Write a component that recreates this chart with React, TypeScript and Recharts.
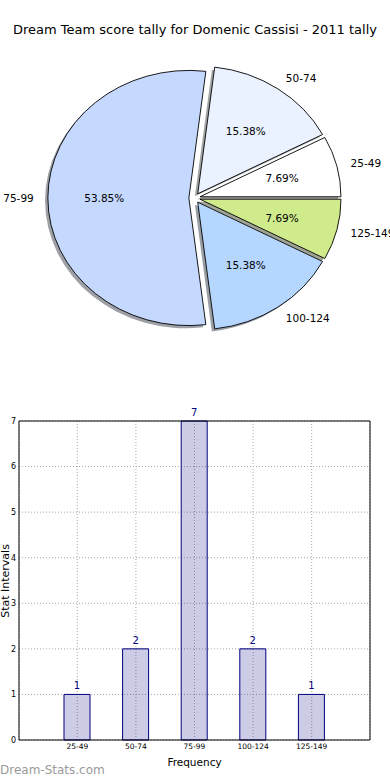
import { Bar, BarChart, CartesianGrid, Cell, LabelList, Pie, PieChart, XAxis, YAxis } from 'recharts';

const RANGES = ['25-49', '50-74', '75-99', '100-124', '125-149'];
const COUNTS = [1, 2, 7, 2, 1];
const SLICE_COLORS = ['#ffffff', '#eaf2ff', '#c5d9ff', '#b5d6ff', '#d0eb8c'];
const Y_TICKS = [0, 1, 2, 3, 4, 5, 6, 7];

const data = RANGES.map((name, i) => ({ name, count: COUNTS[i] }));

const FONT = '"DejaVu Sans", sans-serif';
const RAD = Math.PI / 180;
// the original pie is drawn on non-square axes, so it comes out as an ellipse
const Y_RATIO = 0.905;
const EXPLODE = 0.04;
const SHADOW = 0.02;

const shade = (hex: string) => {
	const n = parseInt(hex.slice(1), 16);
	const r = Math.round(((n >> 16) & 255) * 0.3);
	const g = Math.round(((n >> 8) & 255) * 0.3);
	const b = Math.round((n & 255) * 0.3);
	return `rgb(${r},${g},${b})`;
};

const explodedCenter = (cx: number, cy: number, r: number, mid: number) => ({
	x: cx + EXPLODE * r * Math.cos(mid * RAD),
	y: cy - EXPLODE * r * Y_RATIO * Math.sin(mid * RAD),
});

const wedgePath = (x: number, y: number, rx: number, ry: number, a0: number, a1: number) => {
	const x0 = x + rx * Math.cos(a0 * RAD);
	const y0 = y - ry * Math.sin(a0 * RAD);
	const x1 = x + rx * Math.cos(a1 * RAD);
	const y1 = y - ry * Math.sin(a1 * RAD);
	const large = Math.abs(a1 - a0) > 180 ? 1 : 0;
	const sweep = a1 > a0 ? 0 : 1;
	return `M${x},${y} L${x0},${y0} A${rx},${ry} 0 ${large} ${sweep} ${x1},${y1} Z`;
};

const Wedge = (props: any) => {
	const { cx, cy, outerRadius, startAngle, endAngle, fill } = props;
	const c = explodedCenter(cx, cy, outerRadius, (startAngle + endAngle) / 2);
	return (
		<path
			d={wedgePath(c.x, c.y, outerRadius, outerRadius * Y_RATIO, startAngle, endAngle)}
			fill={fill}
			stroke="#000"
			strokeWidth={0.9}
		/>
	);
};

const WedgeShadow = (props: any) => {
	const { cx, cy, outerRadius, startAngle, endAngle, fill } = props;
	const c = explodedCenter(cx, cy, outerRadius, (startAngle + endAngle) / 2);
	const rx = outerRadius;
	const ry = outerRadius * Y_RATIO;
	return (
		<path
			d={wedgePath(c.x - SHADOW * rx, c.y + SHADOW * ry, rx, ry, startAngle, endAngle)}
			fill={shade(fill)}
			fillOpacity={0.5}
		/>
	);
};

const renderPieLabel = (props: any) => {
	const { cx, cy, outerRadius, midAngle, percent, name } = props;
	const c = explodedCenter(cx, cy, outerRadius, midAngle);
	const rx = outerRadius;
	const ry = outerRadius * Y_RATIO;
	const cos = Math.cos(midAngle * RAD);
	const sin = Math.sin(midAngle * RAD);
	return (
		<g>
			<text
				x={c.x + 1.1 * rx * cos}
				y={c.y - 1.1 * ry * sin}
				textAnchor={cos >= 0 ? 'start' : 'end'}
				dominantBaseline="central"
				fontSize={10.5}
				fontFamily={FONT}
				fill="#000"
			>
				{name}
			</text>
			<text
				x={c.x + 0.6 * rx * cos}
				y={c.y - 0.6 * ry * sin}
				textAnchor="middle"
				dominantBaseline="central"
				fontSize={10.5}
				fontFamily={FONT}
				fill="#000"
			>
				{(percent * 100).toFixed(2)}%
			</text>
		</g>
	);
};

const App = () => {
	return (
		<div style={{ position: 'absolute', left: 0, top: 0, width: 390, height: 780, background: '#fff', fontFamily: FONT }}>
			<div style={{ position: 'absolute', top: 21, left: 0, width: 390, textAlign: 'center', fontSize: 13, lineHeight: '18px', color: '#000' }}>
				Dream Team score tally for Domenic Cassisi - 2011 tally
			</div>

			{/* Pie */}
			<div style={{ position: 'absolute', top: 0, left: 0 }}>
				<PieChart width={390} height={390} margin={{ top: 0, right: 0, bottom: 0, left: 0 }}>
					<Pie
						data={data}
						dataKey="count"
						nameKey="name"
						cx={194.5}
						cy={198}
						outerRadius={141}
						startAngle={0}
						endAngle={360}
						isAnimationActive={false}
						shape={WedgeShadow}
						activeShape={WedgeShadow}
						label={false}
						labelLine={false}
					>
						{data.map((entry, index) => (
							<Cell key={`shadow-${entry.name}`} fill={SLICE_COLORS[index % SLICE_COLORS.length]} />
						))}
					</Pie>
					<Pie
						data={data}
						dataKey="count"
						nameKey="name"
						cx={194.5}
						cy={198}
						outerRadius={141}
						startAngle={0}
						endAngle={360}
						isAnimationActive={false}
						shape={Wedge}
						activeShape={Wedge}
						label={renderPieLabel}
						labelLine={false}
					>
						{data.map((entry, index) => (
							<Cell key={`cell-${entry.name}`} fill={SLICE_COLORS[index % SLICE_COLORS.length]} />
						))}
					</Pie>
				</PieChart>
			</div>

			{/* Bar chart */}
			<div style={{ position: 'absolute', top: 400, left: 0 }}>
				<BarChart width={390} height={380} data={data} margin={{ top: 20, right: 19, bottom: 0, left: 0 }}>
					<CartesianGrid stroke="#a8a8a8" strokeDasharray="1 2" />
					<XAxis
						dataKey="name"
						height={40}
						padding={{ left: 29, right: 29 }}
						axisLine={{ stroke: '#000' }}
						tickLine={false}
						tickSize={0}
						tickMargin={4}
						tick={{ fontSize: 7.5, fill: '#000', fontFamily: FONT }}
						label={{ value: 'Frequency', position: 'insideBottom', offset: 14, fontSize: 10.5, fill: '#000', fontFamily: FONT }}
					/>
					<XAxis
						xAxisId="top"
						orientation="top"
						dataKey="name"
						height={1}
						padding={{ left: 29, right: 29 }}
						axisLine={{ stroke: '#000' }}
						tick={false}
						tickLine={false}
					/>
					<YAxis
						domain={[0, 7]}
						ticks={Y_TICKS}
						width={19}
						axisLine={{ stroke: '#000' }}
						tickLine={false}
						tickSize={0}
						tickMargin={3}
						tick={{ fontSize: 8, fill: '#000', fontFamily: FONT }}
						label={{
							content: () => (
								<text x={8.5} y={181} transform="rotate(-90 8.5 181)" textAnchor="middle" fontSize={11} fill="#000" fontFamily={FONT}>
									Stat Intervals
								</text>
							),
						}}
					/>
					<YAxis yAxisId="right" orientation="right" domain={[0, 7]} width={1} axisLine={{ stroke: '#000' }} tick={false} tickLine={false} />
					<Bar dataKey="count" barSize={26} fill="#000080" fillOpacity={0.2} stroke="#000080" strokeWidth={1} isAnimationActive={false}>
						<LabelList dataKey="count" position="top" offset={5} fill="#000080" fontSize={10} fontFamily={FONT} />
					</Bar>
				</BarChart>
			</div>

			<div style={{ position: 'absolute', left: 0, top: 762, fontSize: 12, lineHeight: '16px', color: '#9a9a9a' }}>Dream-Stats.com</div>
		</div>
	);
};

export default App;
